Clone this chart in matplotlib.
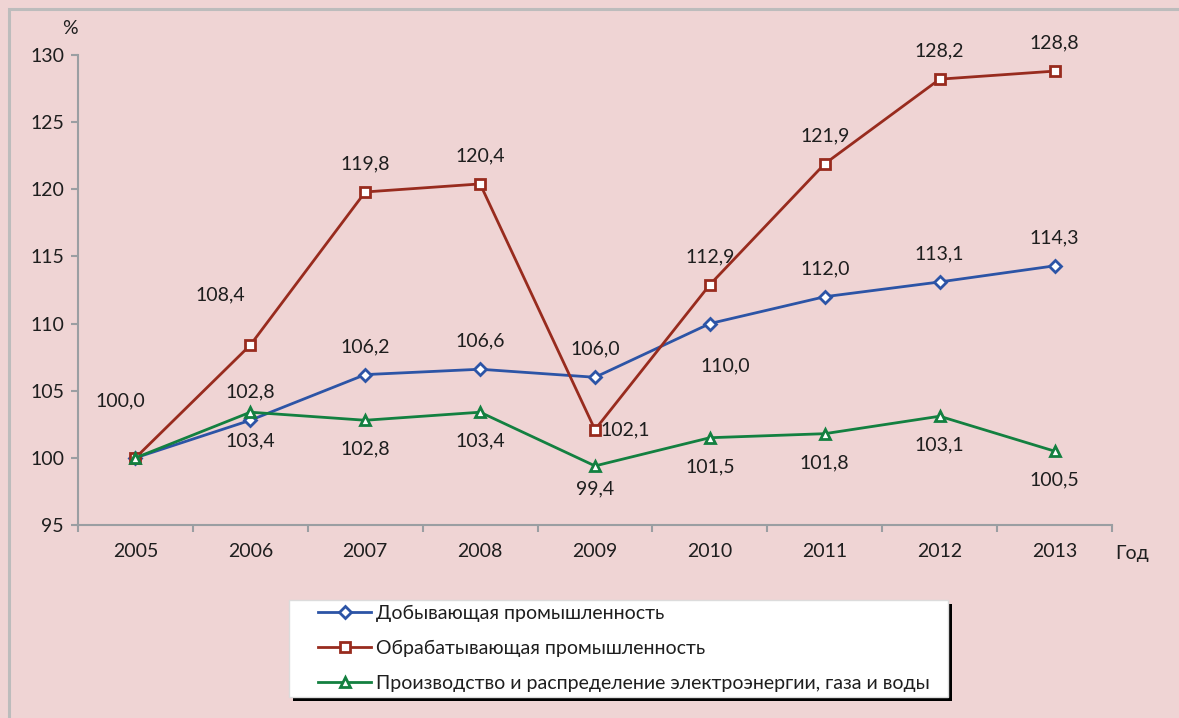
import numpy as np
import matplotlib.pyplot as plt
from matplotlib.patches import Rectangle

plt.rcParams['font.family'] = ['Lato', 'DejaVu Sans']

# Data
years = ['2005', '2006', '2007', '2008', '2009', '2010', '2011', '2012', '2013']
mining = [100.0, 102.8, 106.2, 106.6, 106.0, 110.0, 112.0, 113.1, 114.3]
manufacturing = [100.0, 108.4, 119.8, 120.4, 102.1, 112.9, 121.9, 128.2, 128.8]
utilities = [100.0, 103.4, 102.8, 103.4, 99.4, 101.5, 101.8, 103.1, 100.5]

names = ['Добывающая промышленность',
         'Обрабатывающая промышленность',
         'Производство и распределение электроэнергии, газа и воды']

bg = '#efd4d4'
txt = '#1e1e1e'
grey = '#9a9ea2'
fs = 14

fig = plt.figure(figsize=(11.79, 7.18), dpi=100, facecolor=bg)
ax = fig.add_axes([78/1179, 1-525/718, (1112-78)/1179, (525-55)/718])
ax.set_facecolor(bg)

# outer frame
fig.patches.append(Rectangle((9/1179, -0.1), 1.2, 1-9/718+0.1, transform=fig.transFigure,
                             fill=False, edgecolor='#bcbcbc', linewidth=2.2))

x = np.arange(len(years))
s1, = ax.plot(x, mining, color='#2c54a6', lw=2.0, marker='D', ms=6.5,
              mfc='white', mec='#2c54a6', mew=2.0, label=names[0], zorder=3)
s2, = ax.plot(x, manufacturing, color='#982b1e', lw=2.0, marker='s', ms=7,
              mfc='white', mec='#982b1e', mew=2.0, label=names[1], zorder=3)
s3, = ax.plot(x, utilities, color='#138040', lw=2.0, marker='^', ms=6.5,
              mfc='white', mec='#138040', mew=2.0, label=names[2], zorder=4)

def lab(i, v, dx, dy):
    ax.annotate(f'{v:.1f}'.replace('.', ','), (i, v), xytext=(dx*0.72, dy*0.72),
                textcoords='offset points', ha='center', va='center',
                fontsize=fs, color=txt)

# value labels (pixel offsets)
for i, v in enumerate(manufacturing):
    if i == 0:
        lab(i, v, -15, 57)
    elif i == 1:
        lab(i, v, -30, 50)
    elif i == 4:
        lab(i, v, 30, 0)
    else:
        lab(i, v, 0, 28)
for i, v in enumerate(mining):
    if i == 0:
        continue
    if i == 5:
        lab(i, v, 15, -42)
    else:
        lab(i, v, 0, 28)
for i, v in enumerate(utilities):
    if i == 0:
        continue
    if i == 4:
        lab(i, v, 0, -23)
    else:
        lab(i, v, 0, -29)

ax.set_xlim(-0.5, 8.5)
ax.set_ylim(95, 130)
ax.set_yticks(np.arange(95, 131, 5))
ax.set_xticks(np.arange(-0.5, 9, 1))
ax.set_xticklabels([])
ax.set_xticks(x, minor=True)
ax.set_xticklabels(years, minor=True)
ax.tick_params(axis='x', which='minor', length=0, pad=13, labelsize=fs, labelcolor=txt)
ax.tick_params(axis='x', which='major', length=5, width=1.5, color=grey, direction='out')
ax.tick_params(axis='y', length=5, width=1.5, color=grey, pad=5, labelsize=fs, labelcolor=txt)
for sp in ['top', 'right']:
    ax.spines[sp].set_visible(False)
for sp in ['left', 'bottom']:
    ax.spines[sp].set_color(grey)
    ax.spines[sp].set_linewidth(1.5)

fig.text(70/1179, 1-28/718, '%', fontsize=fs, color=txt, ha='center', va='center')
fig.text(1132/1179, 1-553/718, 'Год', fontsize=fs, color=txt, ha='center', va='center')

# legend box with dark shadow
lx0, lx1, ly0, ly1 = 289, 948, 600, 697
fig.patches.append(Rectangle(((lx0+4)/1179, 1-(ly1+4)/718), (lx1-lx0)/1179, (ly1-ly0)/718,
                             transform=fig.transFigure, facecolor='black', edgecolor='none', zorder=5))
fig.patches.append(Rectangle((lx0/1179, 1-ly1/718), (lx1-lx0)/1179, (ly1-ly0)/718,
                             transform=fig.transFigure, facecolor='white', edgecolor='#dcdcdc',
                             linewidth=1.0, zorder=6))
leg = fig.legend(handles=[s1, s2, s3], loc='upper left',
                 bbox_to_anchor=(318/1179, 1-605/718),
                 borderaxespad=0, borderpad=0, fontsize=fs, frameon=False,
                 handlelength=2.75, handletextpad=0.25,
                 labelspacing=0.92, labelcolor=txt)
leg.set_zorder(7)

fig.savefig('out.png', dpi=100, facecolor=bg)
